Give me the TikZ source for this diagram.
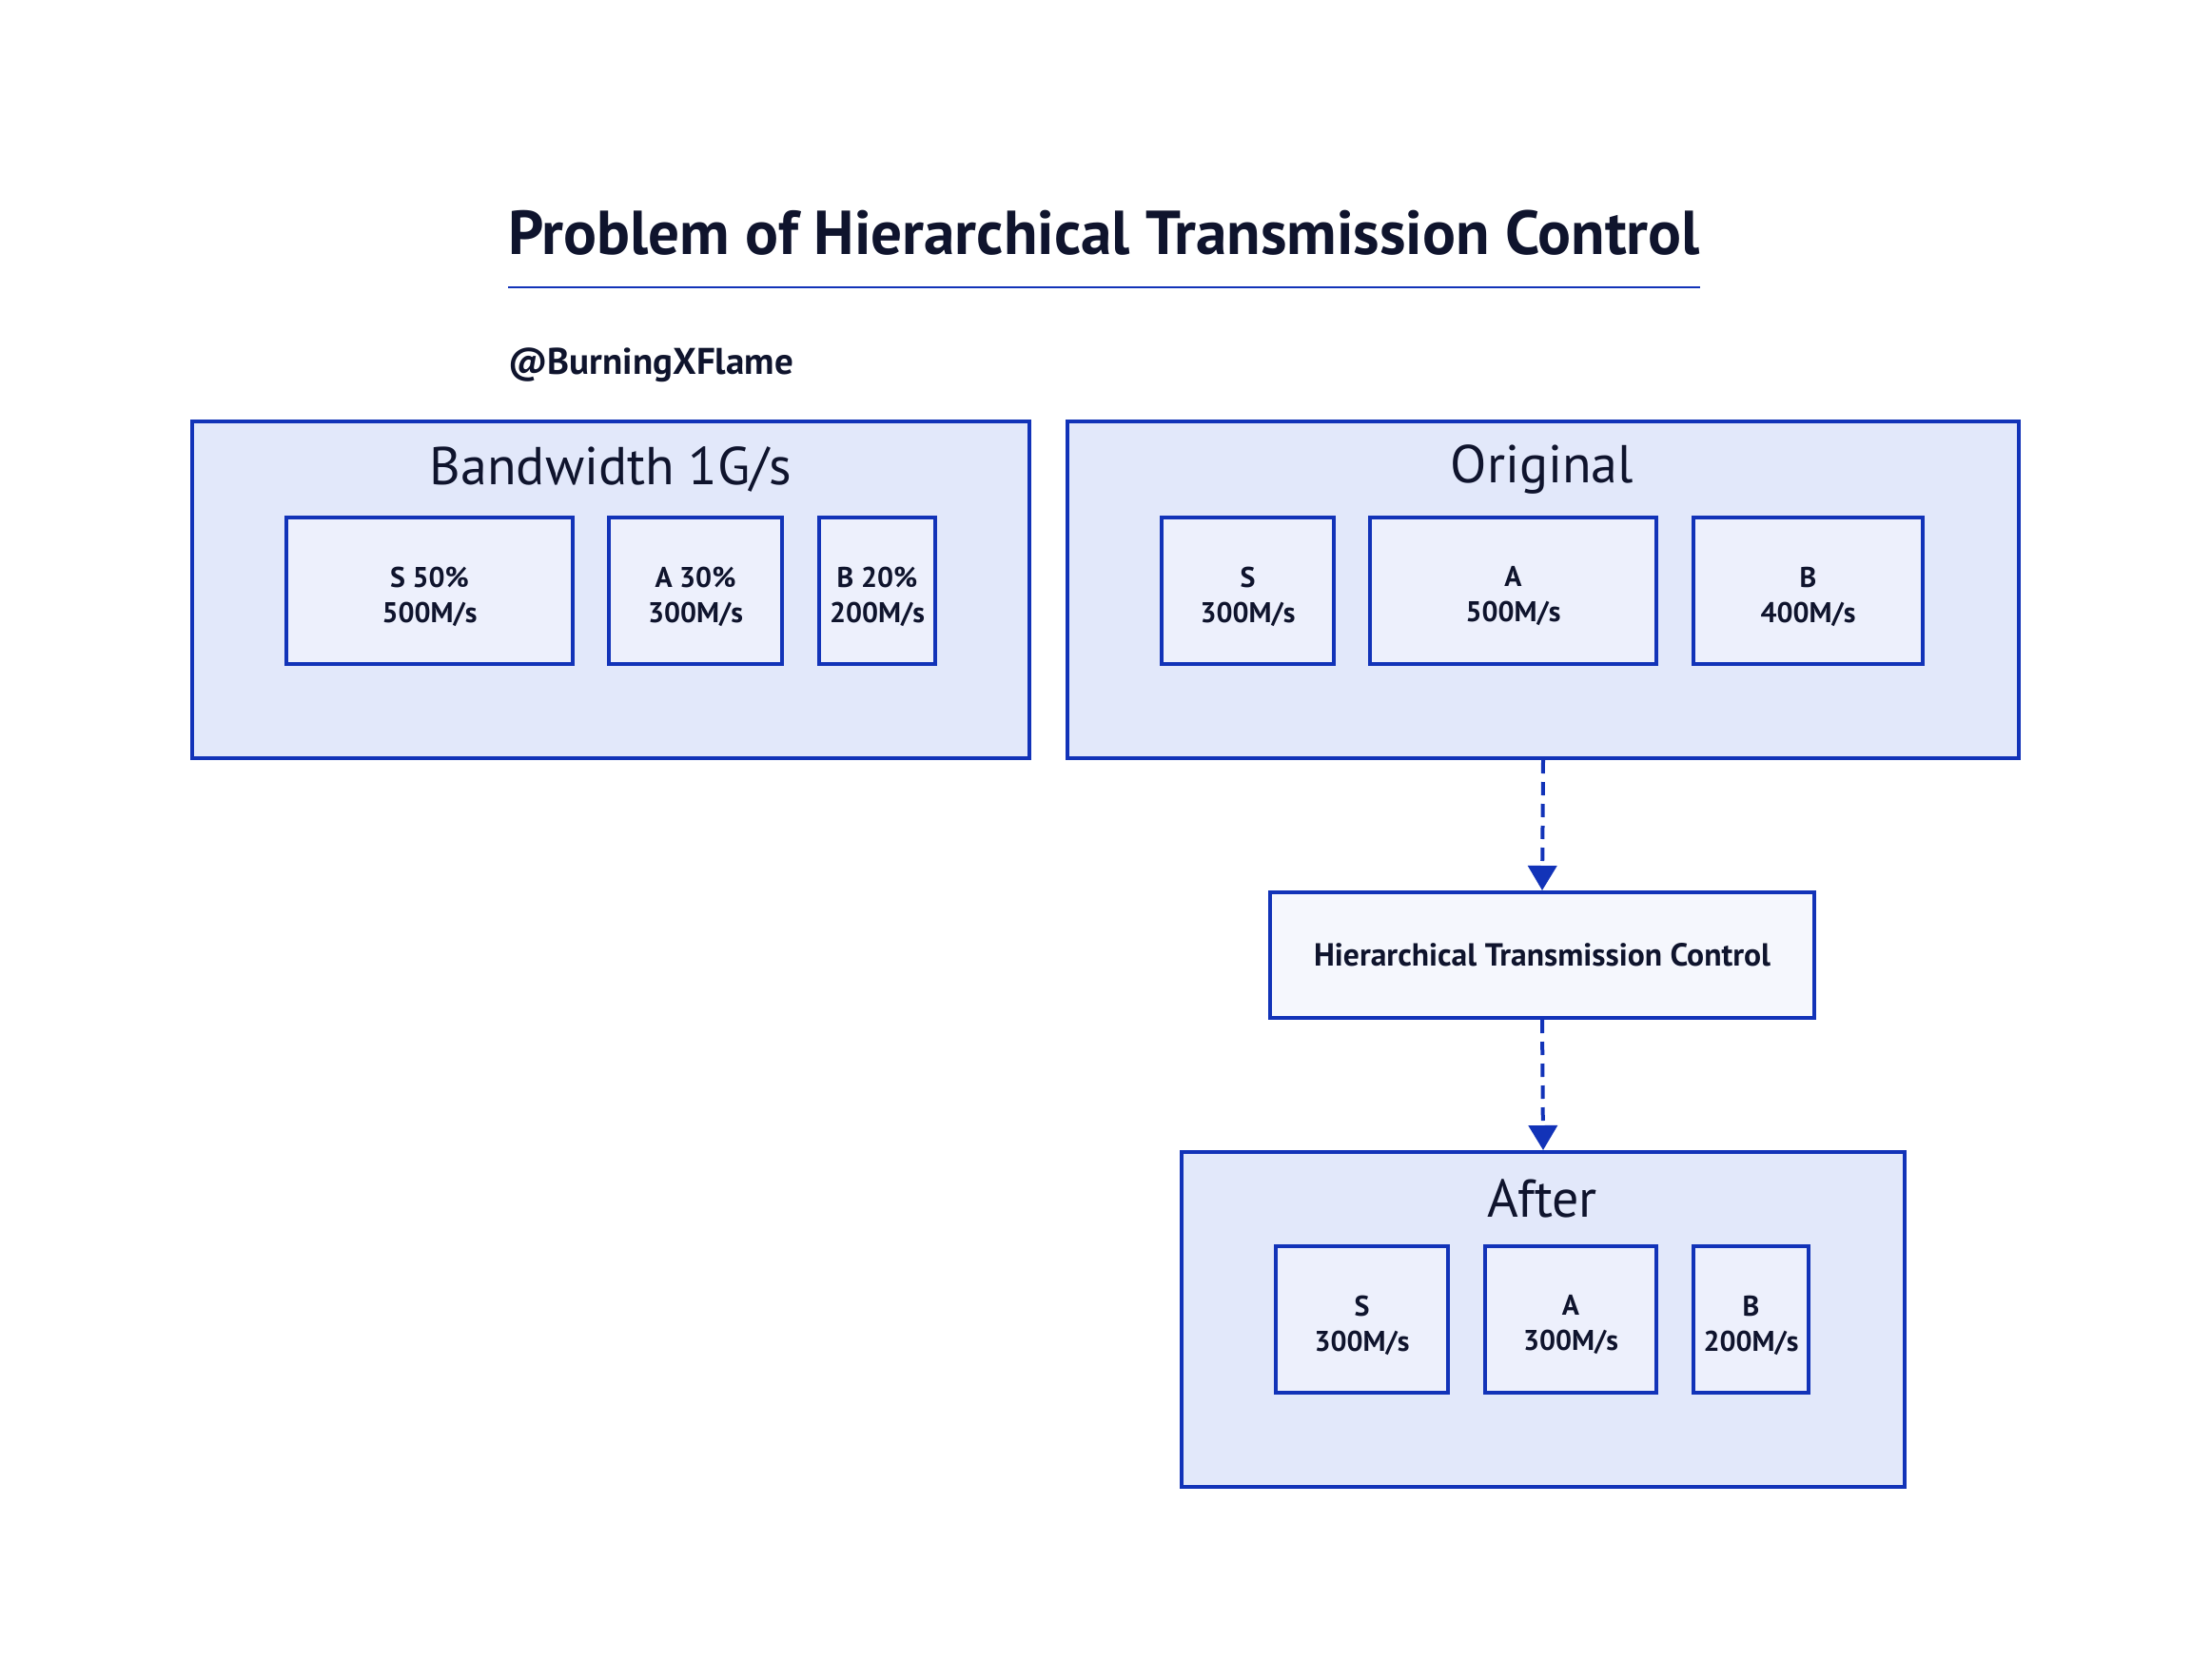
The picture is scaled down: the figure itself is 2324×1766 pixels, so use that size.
\documentclass[tikz,border=0pt]{standalone}
\usepackage{fontspec}
\setmainfont{PT Sans}
\usetikzlibrary{arrows.meta}
\definecolor{bdr}{RGB}{18,51,184}
\definecolor{outerfill}{RGB}{226,232,250}
\definecolor{innerfill}{RGB}{237,240,252}
\definecolor{htcfill}{RGB}{245,247,253}
\definecolor{ink}{RGB}{15,20,45}
\tikzset{
  outerbox/.style={draw=bdr, fill=outerfill, line width=2pt, inner sep=0pt},
  innerbox/.style={draw=bdr, fill=innerfill, line width=2pt, inner sep=0pt, minimum height=77pt},
  innertext/.style={align=center, inner sep=0pt, font=\fontsize{15}{18.5}\selectfont\bfseries, text=ink},
  htcbox/.style={draw=bdr, fill=htcfill, line width=2pt, inner sep=0pt, align=center,
     font=\fontsize{16.8}{20}\selectfont\bfseries, text=ink},
  boxtitle/.style={font=\fontsize{28}{32}\selectfont, text=ink, inner sep=0pt},
  flow/.style={draw=bdr, line width=2pt, dash pattern=on 7pt off 4.5pt,
     -{Triangle[length=13pt,width=15pt]}}
}
\begin{document}
\begin{tikzpicture}[x=0.5pt,y=-0.5pt]
\useasboundingbox (0,0) rectangle (2324,1766);
% title
\node[anchor=base west, inner sep=0pt, text=ink, font=\fontsize{32.6}{38}\selectfont\bfseries] (title) at (534,267) {Problem of Hierarchical Transmission Control};
\coordinate (ulA) at (534,302);
\coordinate (ulB) at (1787,302);
\draw[bdr, line width=1pt] (ulA) -- (ulB);
\node[anchor=base west, inner sep=0pt, text=ink, font=\fontsize{19.5}{22}\selectfont\bfseries] (author) at (534,393) {@BurningXFlame};
% Bandwidth
\node[outerbox, minimum width=440pt, minimum height=177pt] (bw) at (642,620) {};
\node[boxtitle] (bwt) at (642,493) {Bandwidth 1G/s};
\node[innerbox, minimum width=150.5pt] (bS) at (451.5,621) {};
\node[innertext] (bSt) at ([yshift=-3pt]bS.center) {S 50\%\\500M/s};
\node[innerbox, minimum width=91pt] (bA) at (731,621) {};
\node[innertext] (bAt) at ([yshift=-3pt]bA.center) {A 30\%\\300M/s};
\node[innerbox, minimum width=61pt] (bB) at (922,621) {};
\node[innertext] (bBt) at ([yshift=-3pt]bB.center) {B 20\%\\200M/s};
% Original
\node[outerbox, minimum width=500pt, minimum height=177pt] (orig) at (1622,620) {};
\node[boxtitle] (origt) at (1621,493) {Original};
\node[innerbox, minimum width=90.5pt] (oS) at (1311.5,621) {};
\node[innertext] (oSt) at ([yshift=-3pt]oS.center) {S\\300M/s};
\node[innerbox, minimum width=150.5pt] (oA) at (1590.5,621) {};
\node[innertext] (oAt) at ([yshift=-3pt]oA.center) {A\\500M/s};
\node[innerbox, minimum width=120.5pt] (oB) at (1900.5,621) {};
\node[innertext] (oBt) at ([yshift=-3pt]oB.center) {B\\400M/s};
% HTC
\node[htcbox, minimum width=286pt, minimum height=66pt] (htc) at (1621,1004) {Hierarchical Transmission Control};
% After
\node[outerbox, minimum width=380pt, minimum height=176pt] (after) at (1622,1387) {};
\node[boxtitle] (aftert) at (1621,1260) {After};
\node[innerbox, minimum width=90.5pt] (aS) at (1431.5,1387) {};
\node[innertext] (aSt) at ([yshift=-3pt]aS.center) {S\\300M/s};
\node[innerbox, minimum width=90pt] (aA) at (1651,1387) {};
\node[innertext] (aAt) at ([yshift=-3pt]aA.center) {A\\300M/s};
\node[innerbox, minimum width=60.5pt] (aB) at (1840.5,1387) {};
\node[innertext] (aBt) at ([yshift=-3pt]aB.center) {B\\200M/s};
% arrows
\draw[flow] (orig.south) -- (htc.north);
\draw[flow] (htc.south) -- (after.north);
\end{tikzpicture}
\end{document}
